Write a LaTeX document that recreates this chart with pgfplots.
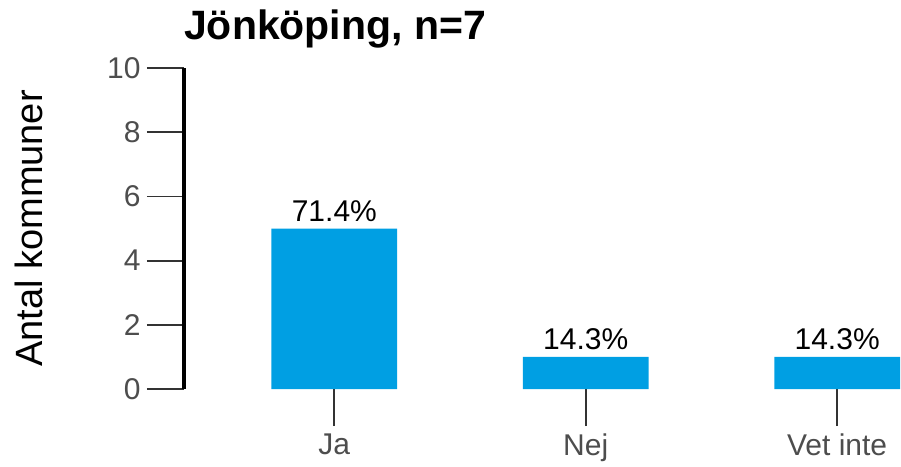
\documentclass[border=0pt]{standalone}
\usepackage{pgfplots}
\pgfplotsset{compat=1.18}
\usepackage{fontspec}
\setmainfont{Liberation Sans}
\definecolor{barblue}{HTML}{009FE3}
\definecolor{tickgray}{HTML}{4D4D4D}
\definecolor{tickline}{HTML}{333333}
\begin{document}
\begin{tikzpicture}
\begin{axis}[
  at={(0pt,0pt)}, anchor=south west,
  scale only axis, width=716pt, height=321pt,
  xmin=-0.598, xmax=2.25, ymin=0, ymax=10,
  axis x line=bottom, axis y line=left,
  x axis line style={draw=none},
  y axis line style={line width=4pt, black, -},
  xtick={0,1,2}, xticklabels={Ja,Nej,Vet inte},
  ytick={0,2,...,10},
  tick align=outside, major tick length=37pt,
  tick style={line width=1.8pt, color=tickline},
  ticklabel style={font=\fontsize{30}{36}\selectfont, text=tickgray},
  yticklabel style={xshift=-3pt},
  xticklabel style={yshift=-4pt},
  /pgf/number format/assume math mode=true,
  ylabel={Antal kommuner},
  ylabel style={font=\fontsize{38}{44}\selectfont, at={(axis description cs:0,0.5)}, anchor=base, yshift=141pt},
  title={Jönköping, n=7},
  title style={at={(axis description cs:0,1)}, anchor=base west, yshift=22pt, inner sep=0pt, font=\bfseries\fontsize{41}{48}\selectfont},
  clip=false,
]
\addplot[ybar, bar width=0.5, fill=barblue, draw=none,
  point meta=explicit symbolic,
  nodes near coords,
  nodes near coords style={font=\fontsize{30}{36}\selectfont, text=black, anchor=base, inner sep=0pt, yshift=7pt},
] coordinates {(0,5) [71.4\%] (1,1) [14.3\%] (2,1) [14.3\%]};
\end{axis}
\pgfresetboundingbox
\useasboundingbox (-184pt,-77pt) rectangle (717pt,389pt);
\end{tikzpicture}
\end{document}
